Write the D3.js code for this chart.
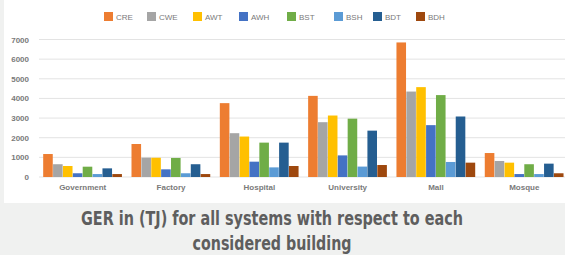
<!DOCTYPE html>
<html>
<head>
<meta charset="utf-8">
<script src="https://cdn.jsdelivr.net/npm/d3@7"></script>
<style>
  body { margin: 0; background: #f0f1f0; }
  svg { display: block; }
</style>
</head>
<body>
<svg></svg>
<script>
const buildings = ['Government', 'Factory', 'Hospital', 'University', 'Mall', 'Mosque'];
const systems = ['CRE', 'CWE', 'AWT', 'AWH', 'BST', 'BSH', 'BDT', 'BDH'];
const colors = ['#ed7d31', '#a5a5a5', '#ffc000', '#4472c4', '#70ad47', '#5b9bd5', '#255e91', '#9e480e'];
const yTicks = [0, 1000, 2000, 3000, 4000, 5000, 6000, 7000];

// one array per building, in the order of systems
const government = [1170, 650, 560, 190, 525, 150, 440, 150];
const factory    = [1680, 985, 980, 390, 970, 190, 650, 150];
const hospital   = [3760, 2230, 2060, 780, 1750, 490, 1750, 560];
const university = [4130, 2790, 3130, 1100, 2970, 530, 2360, 610];
const mall       = [6850, 4350, 4575, 2640, 4170, 765, 3080, 730];
const mosque     = [1220, 815, 730, 150, 650, 150, 680, 190];
const values = [government, factory, hospital, university, mall, mosque];

const run = () => {
  const width = 565, height = 255;
  const svg = d3.select('svg').attr('width', width).attr('height', height);

  // white chart panel
  svg.append('rect').attr('x', 4).attr('y', 0).attr('width', width - 4).attr('height', 203).attr('fill', '#fff');

  const x0 = d3.scaleBand().domain(buildings).range([38.5, 568.5]).paddingInner(0.105).paddingOuter(0.053);
  const x1 = d3.scaleBand().domain(systems).range([0, x0.bandwidth()]);
  const y = d3.scaleLinear().domain([0, 7000]).range([177, 39.5]);

  // gridlines
  svg.append('g').selectAll('line').data(yTicks).enter().append('line')
    .attr('x1', 39).attr('x2', width)
    .attr('y1', d => y(d)).attr('y2', d => y(d))
    .attr('stroke', '#e3e3e3').attr('stroke-width', 1);

  // y axis labels
  const yAxis = svg.append('g').attr('transform', 'translate(29,0)')
    .call(d3.axisLeft(y).tickValues(yTicks).tickFormat(d3.format('d')).tickSize(0).tickPadding(0));
  yAxis.select('.domain').remove();
  yAxis.selectAll('text').attr('fill', '#7a7a7a').attr('font-size', 8)
    .attr('font-weight', 'bold').attr('font-family', 'Liberation Sans, Arial, sans-serif');

  // bars
  const groups = svg.append('g').selectAll('g').data(buildings).enter().append('g')
    .attr('transform', d => `translate(${x0(d)},0)`);
  groups.selectAll('rect')
    .data((d, i) => values[i].map((v, j) => ({ sys: systems[j], v, c: colors[j] })))
    .enter().append('rect')
    .attr('x', d => x1(d.sys))
    .attr('width', x1.bandwidth() - 0.3)
    .attr('y', d => y(d.v))
    .attr('height', d => y(0) - y(d.v))
    .attr('fill', d => d.c);

  // x axis labels
  const xAxis = svg.append('g').attr('transform', 'translate(0,184)')
    .call(d3.axisBottom(x0).tickSize(0).tickPadding(0));
  xAxis.select('.domain').remove();
  xAxis.selectAll('text').attr('fill', '#7a7a7a').attr('font-size', 8)
    .attr('font-weight', 'bold').attr('font-family', 'Liberation Sans, Arial, sans-serif');

  // legend
  const legendX = [104, 147, 193, 239, 287, 334, 373, 416];
  const legend = svg.append('g').selectAll('g').data(systems).enter().append('g')
    .attr('transform', (d, i) => `translate(${legendX[i]},12)`);
  legend.append('rect').attr('width', 9).attr('height', 9).attr('fill', (d, i) => colors[i]);
  legend.append('text').attr('x', 12).attr('y', 7.5).text(d => d)
    .attr('fill', '#7a7a7a').attr('font-size', 8)
    .attr('font-family', 'Liberation Sans, Arial, sans-serif');

  // caption (condensed bold)
  const caption = svg.append('text').attr('text-anchor', 'middle')
    .attr('font-family', 'DejaVu Sans, sans-serif')
    .style('font-stretch', 'condensed')
    .attr('font-weight', 'bold').attr('font-size', 20).attr('fill', '#5e5e5e');
  caption.append('tspan').attr('x', 272).attr('y', 225)
    .attr('textLength', 382).attr('lengthAdjust', 'spacingAndGlyphs')
    .text('GER in (TJ) for all systems with respect to each');
  caption.append('tspan').attr('x', 272).attr('y', 250)
    .attr('textLength', 159).attr('lengthAdjust', 'spacingAndGlyphs')
    .text('considered building');
};

window.app = { run };
window.app.run();
</script>
</body>
</html>
